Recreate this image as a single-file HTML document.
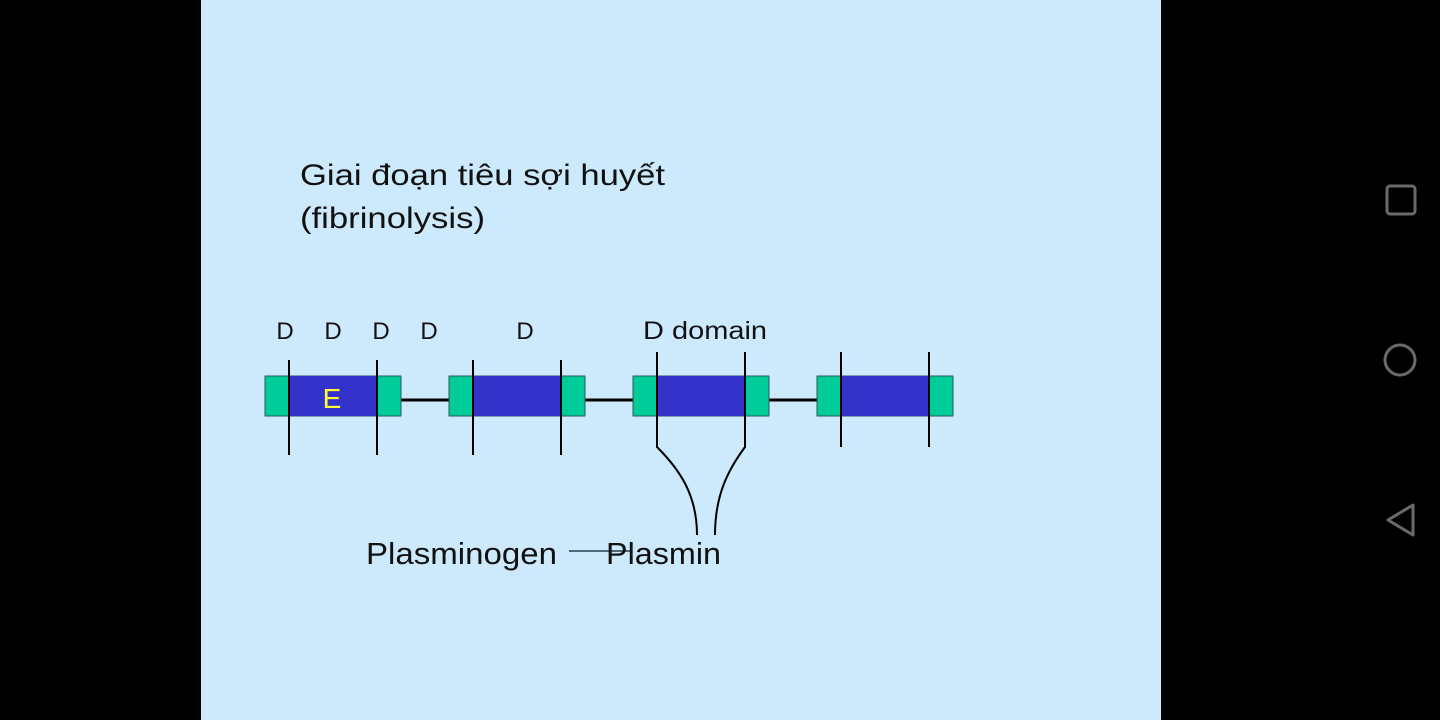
<!DOCTYPE html>
<html><head><meta charset="utf-8"><style>
body{margin:0;width:1440px;height:720px;background:#000;overflow:hidden;font-family:"Liberation Sans",sans-serif}
</style></head><body>
<svg width="1440" height="720" style="position:absolute;left:0;top:0">
<rect x="201" y="0" width="960" height="720" fill="#cdeafc"/>
<text x="300" y="185" font-size="30" fill="#111" textLength="365" lengthAdjust="spacingAndGlyphs">Giai đoạn tiêu sợi huyết</text>
<text x="300" y="228" font-size="30" fill="#111" textLength="185" lengthAdjust="spacingAndGlyphs">(fibrinolysis)</text>
<g font-size="24" fill="#111" text-anchor="middle">
<text x="285" y="339">D</text>
<text x="333" y="339">D</text>
<text x="381" y="339">D</text>
<text x="429" y="339">D</text>
<text x="525" y="339">D</text>
</g>
<text x="643" y="339" font-size="25" fill="#111" textLength="124" lengthAdjust="spacingAndGlyphs">D domain</text>
<g stroke="#000" stroke-width="3">
<line x1="401" y1="400" x2="449" y2="400"/>
<line x1="585" y1="400" x2="633" y2="400"/>
<line x1="769" y1="400" x2="817" y2="400"/>
</g>
<g stroke="#2a5a55" stroke-width="1">
<rect x="265" y="376" width="136" height="40" fill="#00cc99"/>
<rect x="289" y="376" width="88" height="40" fill="#3333cc" stroke="none"/>
<rect x="449" y="376" width="136" height="40" fill="#00cc99"/>
<rect x="473" y="376" width="88" height="40" fill="#3333cc" stroke="none"/>
<rect x="633" y="376" width="136" height="40" fill="#00cc99"/>
<rect x="657" y="376" width="88" height="40" fill="#3333cc" stroke="none"/>
<rect x="817" y="376" width="136" height="40" fill="#00cc99"/>
<rect x="841" y="376" width="88" height="40" fill="#3333cc" stroke="none"/>
</g>
<text x="332" y="408" font-size="28" fill="#ffff33" text-anchor="middle">E</text>
<g stroke="#000" stroke-width="2" fill="none">
<line x1="289" y1="360" x2="289" y2="455"/>
<line x1="377" y1="360" x2="377" y2="455"/>
<line x1="473" y1="360" x2="473" y2="455"/>
<line x1="561" y1="360" x2="561" y2="455"/>
<path d="M657 352 V447 C680 470 697 495 697 535"/>
<path d="M745 352 V447 C728 470 715 495 715 535"/>
<line x1="841" y1="352" x2="841" y2="447"/>
<line x1="929" y1="352" x2="929" y2="447"/>
</g>
<text x="366" y="564" font-size="31" fill="#111" textLength="191" lengthAdjust="spacingAndGlyphs">Plasminogen</text>
<line x1="569" y1="551" x2="630" y2="551" stroke="#4a6a80" stroke-width="2"/>
<text x="606" y="564" font-size="31" fill="#111" textLength="115" lengthAdjust="spacingAndGlyphs">Plasmin</text>
<g stroke="#6a6a6a" stroke-width="3" fill="none">
<rect x="1387" y="186" width="28" height="28" rx="3"/>
<circle cx="1400" cy="360" r="15"/>
<path d="M1413 505 L1388 520 L1413 535 Z" stroke-linejoin="round"/>
</g>
</svg>
</body></html>
